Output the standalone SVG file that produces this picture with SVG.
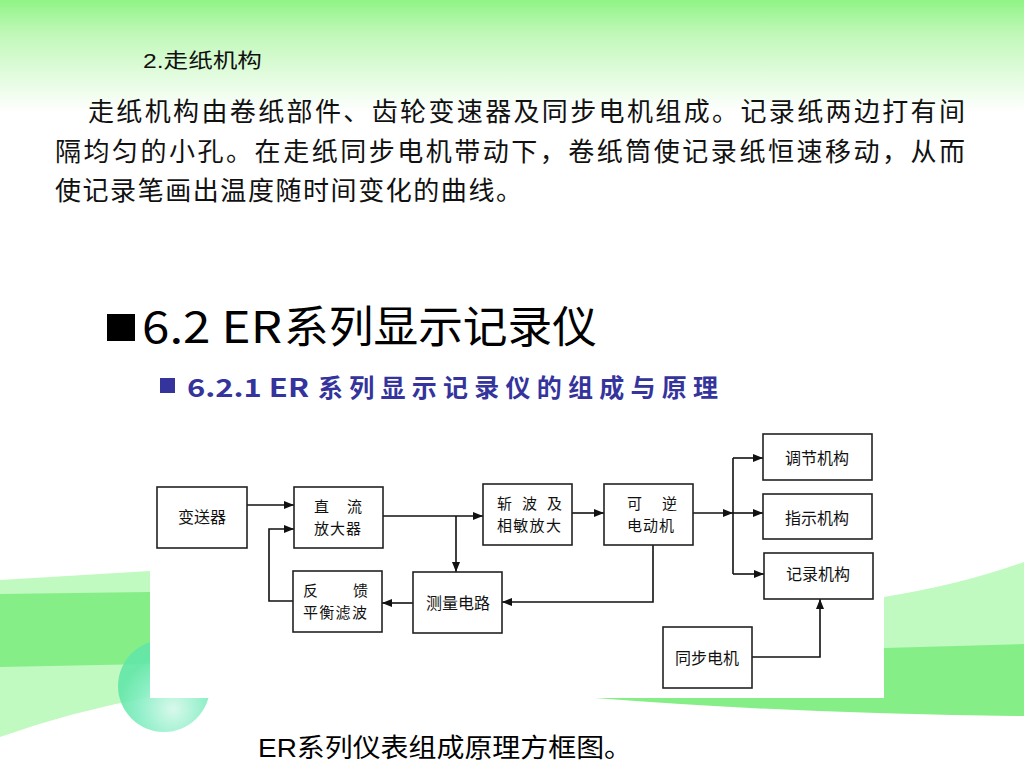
<svg xmlns="http://www.w3.org/2000/svg" width="1024" height="768" viewBox="0 0 1024 768">
<defs>
<linearGradient id="topg" x1="0" y1="0" x2="0" y2="1">
<stop offset="0" stop-color="#90f486"/>
<stop offset="0.3" stop-color="#c0f8b8"/>
<stop offset="1" stop-color="#ffffff"/>
</linearGradient>
<radialGradient id="ballg" cx="0.6" cy="0.75" r="0.6">
<stop offset="0" stop-color="#d4f8ea"/>
<stop offset="0.6" stop-color="#86eec4"/>
<stop offset="1" stop-color="#62e6a8"/>
</radialGradient>
<marker id="arr" markerWidth="10" markerHeight="8" refX="10" refY="4" orient="auto" markerUnits="userSpaceOnUse">
<path d="M0,0 L10,4 L0,8 Z" fill="#111"/>
</marker>
<style>
.box{fill:#fff;stroke:#222;stroke-width:1.6}
.lbl{font-family:"Noto Sans CJK SC","Liberation Sans",sans-serif;font-size:16px;fill:#111}
.two{font-family:"Noto Sans CJK SC","Liberation Sans",sans-serif;font-size:15px;fill:#111}
.mid{text-anchor:middle}
.con{fill:none;stroke:#111;stroke-width:1.6}
.body{font-family:"Noto Sans CJK SC",sans-serif;font-size:26px;fill:#111}
</style>
</defs>
<rect width="1024" height="768" fill="#fff"/>
<rect width="1024" height="112" fill="url(#topg)"/>
<g id="decor-left">
<path d="M0,580 L150,571 L150,697 Q70,712 0,737 Z" fill="#c0fac0"/>
<path d="M0,594 L150,592 L150,664 L0,667 Z" fill="#86ee86"/>
<circle cx="164" cy="686" r="46" fill="url(#ballg)" opacity="0.9"/>
</g>
<g id="decor-right">
<path d="M884,597 Q960,585 1024,562 L1024,716 L884,713 Z" fill="#c0fac0"/>
<path d="M884,648 L1024,644 L1024,716 Q800,714 595,698 L884,698 Z" fill="#86ee86"/>
</g>
<rect x="150" y="420" width="734" height="278" fill="#fff"/>

<text x="143" y="68" font-family="Liberation Sans,Noto Sans CJK SC,sans-serif" font-size="20" fill="#111" textLength="119" lengthAdjust="spacingAndGlyphs">2.走纸机构</text>
<text class="body" x="88" y="121" textLength="877" lengthAdjust="spacing">走纸机构由卷纸部件、齿轮变速器及同步电机组成。记录纸两边打有间</text>
<text class="body" x="55" y="161" textLength="910" lengthAdjust="spacing">隔均匀的小孔。在走纸同步电机带动下，卷纸筒使记录纸恒速移动，从而</text>
<text class="body" x="55" y="200" textLength="467" lengthAdjust="spacing">使记录笔画出温度随时间变化的曲线。</text>

<rect x="107" y="314" width="28" height="27" fill="#000"/>
<text x="142" y="343" font-family="Noto Sans CJK SC,sans-serif" font-size="44" fill="#000" textLength="140" lengthAdjust="spacingAndGlyphs">6.2 ER</text>
<text x="284" y="343" font-family="Noto Sans CJK SC,sans-serif" font-size="44" fill="#000" textLength="313" lengthAdjust="spacingAndGlyphs">系列显示记录仪</text>

<rect x="160" y="378" width="15" height="15" fill="#34349c"/>
<text x="187" y="397" font-family="Noto Sans CJK SC,sans-serif" font-size="25" font-weight="bold" fill="#34349c" textLength="122" lengthAdjust="spacingAndGlyphs">6.2.1 ER</text>
<text x="318" y="397" font-family="Noto Sans CJK SC,sans-serif" font-size="25" font-weight="bold" fill="#34349c" textLength="400" lengthAdjust="spacing">系列显示记录仪的组成与原理</text>

<text x="258" y="757" font-family="Liberation Sans,Noto Sans CJK SC,sans-serif" font-size="26" fill="#000" textLength="374" lengthAdjust="spacingAndGlyphs">ER系列仪表组成原理方框图。</text>

<g id="connectors">
<path class="con" d="M247,505 H294" marker-end="url(#arr)"/>
<path class="con" d="M293,601 H269 V529 H294" marker-end="url(#arr)"/>
<path class="con" d="M383,516 H483" marker-end="url(#arr)"/>
<path class="con" d="M456,516 V572" marker-end="url(#arr)"/>
<path class="con" d="M413,603 H382" marker-end="url(#arr)"/>
<path class="con" d="M572,513 H604" marker-end="url(#arr)"/>
<path class="con" d="M693,513 H733" marker-end="url(#arr)"/>
<path class="con" d="M733,513 H763" marker-end="url(#arr)"/>
<path class="con" d="M733,458 V574"/>
<path class="con" d="M733,458 H763" marker-end="url(#arr)"/>
<path class="con" d="M733,574 H764" marker-end="url(#arr)"/>
<path class="con" d="M653,545 V602 H502" marker-end="url(#arr)"/>
<path class="con" d="M752,657 H820 V599" marker-end="url(#arr)"/>
</g>

<g id="n-biansongqi">
<rect class="box" x="157" y="487" width="90" height="61"/>
<text class="lbl mid" x="202" y="523">变送器</text>
</g>
<g id="n-zhiliu">
<rect class="box" x="294" y="487" width="89" height="61"/>
<text class="two"><tspan x="314" y="512">直</tspan><tspan x="347" y="512">流</tspan><tspan x="314 330 346" y="534">放大器</tspan></text>
</g>
<g id="n-zhanbo">
<rect class="box" x="483" y="484" width="89" height="61"/>
<text class="two"><tspan x="497" y="509">斩</tspan><tspan x="522" y="509">波</tspan><tspan x="547" y="509">及</tspan><tspan x="497 513.3 529.6 545.9" y="531">相敏放大</tspan></text>
</g>
<g id="n-keni">
<rect class="box" x="604" y="484" width="89" height="61"/>
<text class="two"><tspan x="627" y="509">可</tspan><tspan x="662" y="509">逆</tspan><tspan x="627 643 659" y="531">电动机</tspan></text>
</g>
<g id="n-tiaojie">
<rect class="box" x="763" y="434" width="109" height="46"/>
<text class="lbl mid" x="817" y="464">调节机构</text>
</g>
<g id="n-zhishi">
<rect class="box" x="763" y="494" width="109" height="45"/>
<text class="lbl mid" x="817" y="524">指示机构</text>
</g>
<g id="n-jilu">
<rect class="box" x="764" y="553" width="109" height="46"/>
<text class="lbl mid" x="818" y="580">记录机构</text>
</g>
<g id="n-fankui">
<rect class="box" x="293" y="571" width="89" height="61"/>
<text class="two"><tspan x="303" y="596">反</tspan><tspan x="353" y="596">馈</tspan><tspan x="303 319.3 335.6 351.9" y="618">平衡滤波</tspan></text>
</g>
<g id="n-celiang">
<rect class="box" x="413" y="572" width="89" height="61"/>
<text class="lbl mid" x="458" y="609">测量电路</text>
</g>
<g id="n-tongbu">
<rect class="box" x="663" y="627" width="89" height="61"/>
<text class="lbl mid" x="707" y="664">同步电机</text>
</g>
</svg>
